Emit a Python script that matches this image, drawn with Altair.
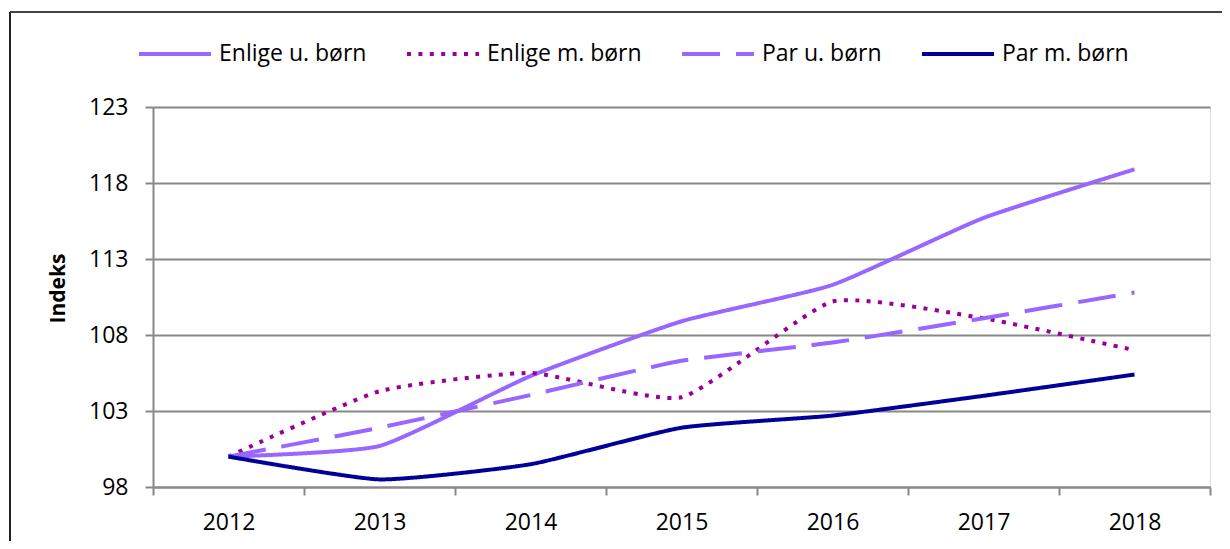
import altair as alt
import pandas as pd

years = ["2012", "2013", "2014", "2015", "2016", "2017", "2018"]
series_names = ["Enlige u. børn", "Enlige m. børn", "Par u. børn", "Par m. børn"]
enlige_u = [100.0, 100.7, 105.3, 108.9, 111.3, 115.7, 118.9]
enlige_m = [100.0, 104.3, 105.5, 103.9, 110.2, 109.1, 107.0]
par_u = [100.0, 101.9, 104.05, 106.3, 107.5, 109.1, 110.8]
par_m = [100.0, 98.5, 99.5, 101.9, 102.7, 104.0, 105.4]
colors = ["#9966FF", "#990099", "#9966FF", "#000099"]
dashes = [[1, 0], [4, 7.4], [38, 16], [1, 0]]

rows = []
for name, vals in zip(series_names, [enlige_u, enlige_m, par_u, par_m]):
    for y, v in zip(years, vals):
        rows.append({"year": y, "value": v, "serie": name})
df = pd.DataFrame(rows)

FONT = "Open Sans"

lines = alt.Chart(df).mark_line(strokeWidth=4, strokeCap="butt", interpolate="cardinal", tension=0.5).encode(
    x=alt.X("year:N", sort=years,
            scale=alt.Scale(paddingInner=0, paddingOuter=0),
            axis=alt.Axis(title=None, tickBand="extent", labelAngle=0, labelFont=FONT,
                          labelFontSize=23, labelColor="#000", domainColor="#888", tickColor="#888",
                          domainWidth=2, tickWidth=2, tickSize=8, labelPadding=16, grid=False)),
    y=alt.Y("value:Q", scale=alt.Scale(domain=[98, 123], nice=False, zero=False),
            axis=alt.Axis(title="Indeks", values=[98, 103, 108, 113, 118, 123], labelFont=FONT,
                          labelFontSize=23, labelColor="#000", domainColor="#888", tickColor="#888",
                          domainWidth=2, tickWidth=2, tickSize=8, labelPadding=17,
                          gridColor="#888", gridWidth=2, titleFont=FONT, titleFontSize=21,
                          titleFontWeight="bold", titleColor="#000", titleX=-95, titleY=181,
                          titleAlign="center", titleBaseline="middle", titleAngle=-90)),
    color=alt.Color("serie:N", sort=series_names,
                    scale=alt.Scale(domain=series_names, range=colors),
                    legend=alt.Legend(title=None, orient="none", legendX=-16, legendY=-91,
                                      direction="horizontal", columns=4, symbolType="stroke",
                                      symbolSize=5184, symbolStrokeWidth=4, labelFont=FONT,
                                      labelFontSize=23, labelColor="#000", labelOffset=6,
                                      columnPadding=32, labelLimit=300)),
    strokeDash=alt.StrokeDash("serie:N", sort=series_names,
                              scale=alt.Scale(domain=series_names, range=dashes),
                              legend=None),
)

frame_data = alt.Data(values=[{"k": 1}])
top_rule = alt.Chart(frame_data).mark_rule(color="#444", strokeWidth=2).encode(
    x=alt.value(-143), x2=alt.value(1100), y=alt.value(-95))
left_rule = alt.Chart(frame_data).mark_rule(color="#222", strokeWidth=2).encode(
    x=alt.value(-143), y=alt.value(-95), y2=alt.value(460))

chart = alt.layer(lines, top_rule, left_rule).properties(
    width=1057, height=380,
    autosize=alt.AutoSizeParams(type="none"),
    padding={"left": 145, "top": 99, "right": 12, "bottom": 54},
).configure_view(stroke="#9966FF", strokeWidth=2).configure(background="white")

chart.save("out.html", embed_options={"renderer": "svg", "actions": False})
